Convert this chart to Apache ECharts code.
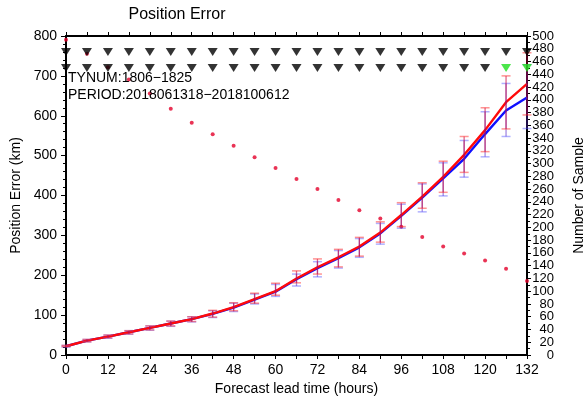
<!DOCTYPE html>
<html>
<head>
<meta charset="utf-8">
<script src="https://cdn.jsdelivr.net/npm/echarts@6/dist/echarts.min.js"></script>
<style>
  html, body { margin: 0; padding: 0; background: #fff; }
  #chart { width: 583px; height: 401px; }
</style>
</head>
<body>
<div id="chart"></div>
<script>
// Forecast lead times (hours)
const leadHours = [0, 6, 12, 18, 24, 30, 36, 42, 48, 54, 60, 66, 72, 78, 84, 90, 96, 102, 108, 114, 120, 126, 132];

// Mean position error (km) for the two forecast sets
const errRed  = [22, 36, 46, 57, 68, 79, 90, 104, 120, 140, 160, 192, 220, 245, 272, 307, 351, 397, 447, 502, 564, 634, 680];
const errBlue = [22, 36, 46, 57, 68, 79, 90, 103, 119, 139, 159, 190, 218, 243, 270, 305, 349, 395, 443, 492, 554, 613, 646];

// Confidence bounds (km)
const errRedLow   = [21, 33, 43, 53, 63, 73, 84, 95, 111, 130, 150, 181, 203, 221, 248, 283, 322, 368, 408, 458, 510, 567, 602];
const errRedHigh  = [24, 39, 50, 61, 73, 85, 96, 112, 131, 155, 180, 211, 241, 265, 295, 334, 382, 432, 486, 548, 620, 700, 758];
const errBlueLow  = [20, 33, 42, 52, 62, 72, 83, 94, 109, 128, 147, 173, 196, 218, 245, 278, 318, 359, 399, 446, 497, 548, 568];
const errBlueHigh = [24, 39, 50, 61, 73, 85, 96, 111, 130, 153, 177, 203, 234, 262, 292, 330, 378, 429, 482, 538, 610, 681, 728];

// Number of samples at each lead time
const sampleCount = [494, 472, 451, 432, 410, 386, 364, 346, 328, 310, 293, 276, 260, 243, 227, 214, 201, 185, 170, 159, 148, 135, 116];

// Significance markers: two rows, 1 = significant difference
const sigRowLevels = [760, 720];
const sigRow1 = [0, 0, 0, 0, 0, 0, 0, 0, 0, 0, 0, 0, 0, 0, 0, 0, 0, 0, 0, 0, 0, 0, 0];
const sigRow2 = [0, 0, 0, 0, 0, 0, 0, 0, 0, 0, 0, 0, 0, 0, 0, 0, 0, 0, 0, 0, 0, 1, 1];

// Axis ranges and tick steps
const leftTicks = { min: 0, max: 800, interval: 100 };
const rightTicks = { min: 0, max: 500, interval: 20 };
const xTicks = { min: 0, max: 132, interval: 12 };

const FONT = 'Liberation Sans, Arial, Helvetica, sans-serif';

function errorBars(name, low, high, stemColor, capColor) {
  return {
    type: 'custom',
    name: name,
    xAxisIndex: 0,
    yAxisIndex: 0,
    z: 5,
    data: leadHours.map((h, i) => [h, low[i], high[i]]),
    encode: { x: 0, y: [1, 2] },
    renderItem: function (params, api) {
      const x = api.value(0);
      const lo = api.coord([x, api.value(1)]);
      const hi = api.coord([x, api.value(2)]);
      const w = 4.5;
      return {
        type: 'group',
        children: [
          { type: 'line', shape: { x1: lo[0], y1: lo[1], x2: hi[0], y2: hi[1] },
            style: { stroke: stemColor, lineWidth: 1.3 } },
          { type: 'line', shape: { x1: lo[0] - w, y1: lo[1], x2: lo[0] + w, y2: lo[1] },
            style: { stroke: capColor, lineWidth: 1.5 } },
          { type: 'line', shape: { x1: hi[0] - w, y1: hi[1], x2: hi[0] + w, y2: hi[1] },
            style: { stroke: capColor, lineWidth: 1.5 } }
        ]
      };
    }
  };
}

function sigMarkers(flags, level) {
  return {
    type: 'scatter',
    xAxisIndex: 0,
    yAxisIndex: 0,
    z: 6,
    symbol: 'triangle',
    symbolRotate: 180,
    symbolSize: [10, 8],
    data: leadHours.map((h, i) => ({
      value: [h, level],
      itemStyle: { color: flags[i] ? '#1ee01e' : '#000' }
    }))
  };
}

const axisLineStyle = { color: '#000', width: 2 };

// The sample-count axis carries a label every 20; the labels are split over two
// stacked axes (multiples of 40 / the rest) so none of them gets dropped as crowded.
function sampleAxisLabel(keepRemainder) {
  return {
    fontSize: 13, color: '#000', margin: 27, align: 'right', fontFamily: FONT,
    showMinLabel: true, showMaxLabel: true,
    formatter: v => (v % 40 === keepRemainder ? String(v) : '')
  };
}

const chart = echarts.init(document.getElementById('chart'), null, { renderer: 'canvas' });
chart.setOption({
  animation: false,
  backgroundColor: '#fff',
  textStyle: { fontFamily: FONT },
  grid: { left: 66, right: 56, top: 36, bottom: 46, containLabel: false, outerBoundsMode: 'none' },
  xAxis: [
    {
      type: 'value', position: 'bottom',
      min: xTicks.min, max: xTicks.max, interval: xTicks.interval,
      name: 'Forecast lead time (hours)', nameLocation: 'middle', nameGap: 26,
      nameTextStyle: { fontSize: 14, color: '#000', fontFamily: FONT },
      axisLine: { show: true, onZero: false, lineStyle: axisLineStyle },
      axisTick: { show: true, length: 4, lineStyle: { color: '#000', width: 1 } },
      minorTick: { show: true, splitNumber: 2, length: 4, lineStyle: { color: '#000', width: 1 } },
      axisLabel: { fontSize: 14, color: '#000', margin: 8, fontFamily: FONT, showMinLabel: true, showMaxLabel: true },
      splitLine: { show: false }
    },
    {
      type: 'value', position: 'top',
      min: xTicks.min, max: xTicks.max, interval: xTicks.interval,
      axisLine: { show: true, onZero: false, lineStyle: axisLineStyle },
      axisTick: { show: true, length: 4, lineStyle: { color: '#000', width: 1 } },
      minorTick: { show: true, splitNumber: 2, length: 4, lineStyle: { color: '#000', width: 1 } },
      axisLabel: { show: false },
      splitLine: { show: false }
    }
  ],
  yAxis: [
    {
      type: 'value', position: 'left',
      min: leftTicks.min, max: leftTicks.max, interval: leftTicks.interval,
      name: 'Position Error (km)', nameLocation: 'middle', nameGap: 39, nameRotate: 90,
      nameTextStyle: { fontSize: 14, color: '#000', fontFamily: FONT },
      axisLine: { show: true, onZero: false, lineStyle: axisLineStyle },
      axisTick: { show: true, length: 5, lineStyle: { color: '#000', width: 1 } },
      minorTick: { show: true, splitNumber: 5, length: 3, lineStyle: { color: '#000', width: 1 } },
      axisLabel: { fontSize: 14, color: '#000', margin: 9, fontFamily: FONT, showMinLabel: true, showMaxLabel: true },
      splitLine: { show: false }
    },
    {
      type: 'value', position: 'right',
      min: rightTicks.min, max: rightTicks.max, interval: rightTicks.interval,
      name: 'Number of Sample', nameLocation: 'middle', nameGap: 45, nameRotate: 90,
      nameTextStyle: { fontSize: 14, color: '#000', fontFamily: FONT },
      axisLine: { show: true, onZero: false, lineStyle: axisLineStyle },
      axisTick: { show: true, length: 4, lineStyle: { color: '#000', width: 1 } },
      minorTick: { show: true, splitNumber: 2, length: 3, lineStyle: { color: '#000', width: 1 } },
      axisLabel: sampleAxisLabel(0),
      splitLine: { show: false }
    },
    {
      type: 'value', position: 'right',
      min: rightTicks.min, max: rightTicks.max, interval: rightTicks.interval,
      axisLine: { show: false },
      axisTick: { show: false },
      minorTick: { show: false },
      axisLabel: sampleAxisLabel(20),
      splitLine: { show: false }
    }
  ],
  graphic: [
    { type: 'text', z: 10, x: 177, y: 15,
      style: { text: 'Position Error', font: '16px ' + FONT, fill: '#000',
               textAlign: 'center', textVerticalAlign: 'middle' } },
    { type: 'text', z: 10, x: 68, y: 78,
      style: { text: 'TYNUM:1806\u22121825', font: '14px ' + FONT, fill: '#000', textVerticalAlign: 'middle' } },
    { type: 'text', z: 10, x: 68, y: 95,
      style: { text: 'PERIOD:2018061318\u22122018100612', font: '14px ' + FONT, fill: '#000', textVerticalAlign: 'middle' } }
  ],
  series: [
    {
      type: 'scatter', name: 'samples', xAxisIndex: 0, yAxisIndex: 1, z: 3,
      symbol: 'circle', symbolSize: 4,
      itemStyle: { color: '#e3002b' },
      data: leadHours.map((h, i) => [h, sampleCount[i]])
    },
    {
      type: 'line', name: 'blue', xAxisIndex: 0, yAxisIndex: 0, z: 3,
      showSymbol: false, symbol: 'none',
      lineStyle: { color: '#1010ff', width: 2.4 },
      data: leadHours.map((h, i) => [h, errBlue[i]])
    },
    {
      type: 'line', name: 'red', xAxisIndex: 0, yAxisIndex: 0, z: 4,
      showSymbol: false, symbol: 'none',
      lineStyle: { color: '#ff0a0a', width: 2.4 },
      data: leadHours.map((h, i) => [h, errRed[i]])
    },
    errorBars('blue bounds', errBlueLow, errBlueHigh, 'rgba(90,40,200,0.55)', 'rgba(80,80,255,0.45)'),
    errorBars('red bounds', errRedLow, errRedHigh, 'rgba(200,0,60,0.6)', 'rgba(255,40,40,0.5)'),
    sigMarkers(sigRow1, sigRowLevels[0]),
    sigMarkers(sigRow2, sigRowLevels[1])
  ]
});
</script>
</body>
</html>
